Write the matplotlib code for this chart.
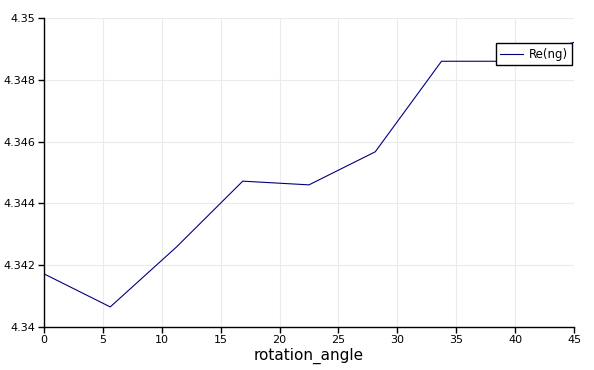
import matplotlib
matplotlib.use("Agg")
import matplotlib.pyplot as plt
from matplotlib.ticker import FuncFormatter, MultipleLocator

# data
rotation_angle = [0, 5.625, 11.25, 16.875, 22.5, 28.125, 33.75, 39.375, 45]
re_ng = [4.34172, 4.34065, 4.34259, 4.34472, 4.34460, 4.34567, 4.34860, 4.34860, 4.34921]

fig = plt.figure(figsize=(5.94, 3.70), dpi=100)
ax = fig.add_axes([44 / 594, 43 / 370, 530 / 594, 309 / 370])

ax.plot(rotation_angle, re_ng, color="#000080", linewidth=0.8, label="Re(ng)")

ax.set_xlim(0, 45)
ax.set_ylim(4.34, 4.35)
ax.xaxis.set_major_locator(MultipleLocator(5))
ax.yaxis.set_major_locator(MultipleLocator(0.002))
ax.yaxis.set_major_formatter(FuncFormatter(lambda v, p: "%g" % round(v, 4)))

ax.grid(True, color="#ebebeb", linewidth=0.8)
ax.set_axisbelow(True)
for s in ["top", "right"]:
    ax.spines[s].set_visible(False)
for s in ["left", "bottom"]:
    ax.spines[s].set_linewidth(1.0)
ax.tick_params(direction="out", length=4, width=1, labelsize=8, pad=2)

ax.set_xlabel("rotation_angle", fontsize=11, labelpad=2)

# legend sits a bit below the top right corner
leg = ax.legend(loc="upper right", bbox_to_anchor=(0.997, (327 - 43) / 309),
                borderaxespad=0, fancybox=False, framealpha=1, edgecolor="black",
                fontsize=8.5, handlelength=1.9, handletextpad=0.5, borderpad=0.4)
leg.get_frame().set_linewidth(1.0)

fig.savefig("out.png", dpi=100)
